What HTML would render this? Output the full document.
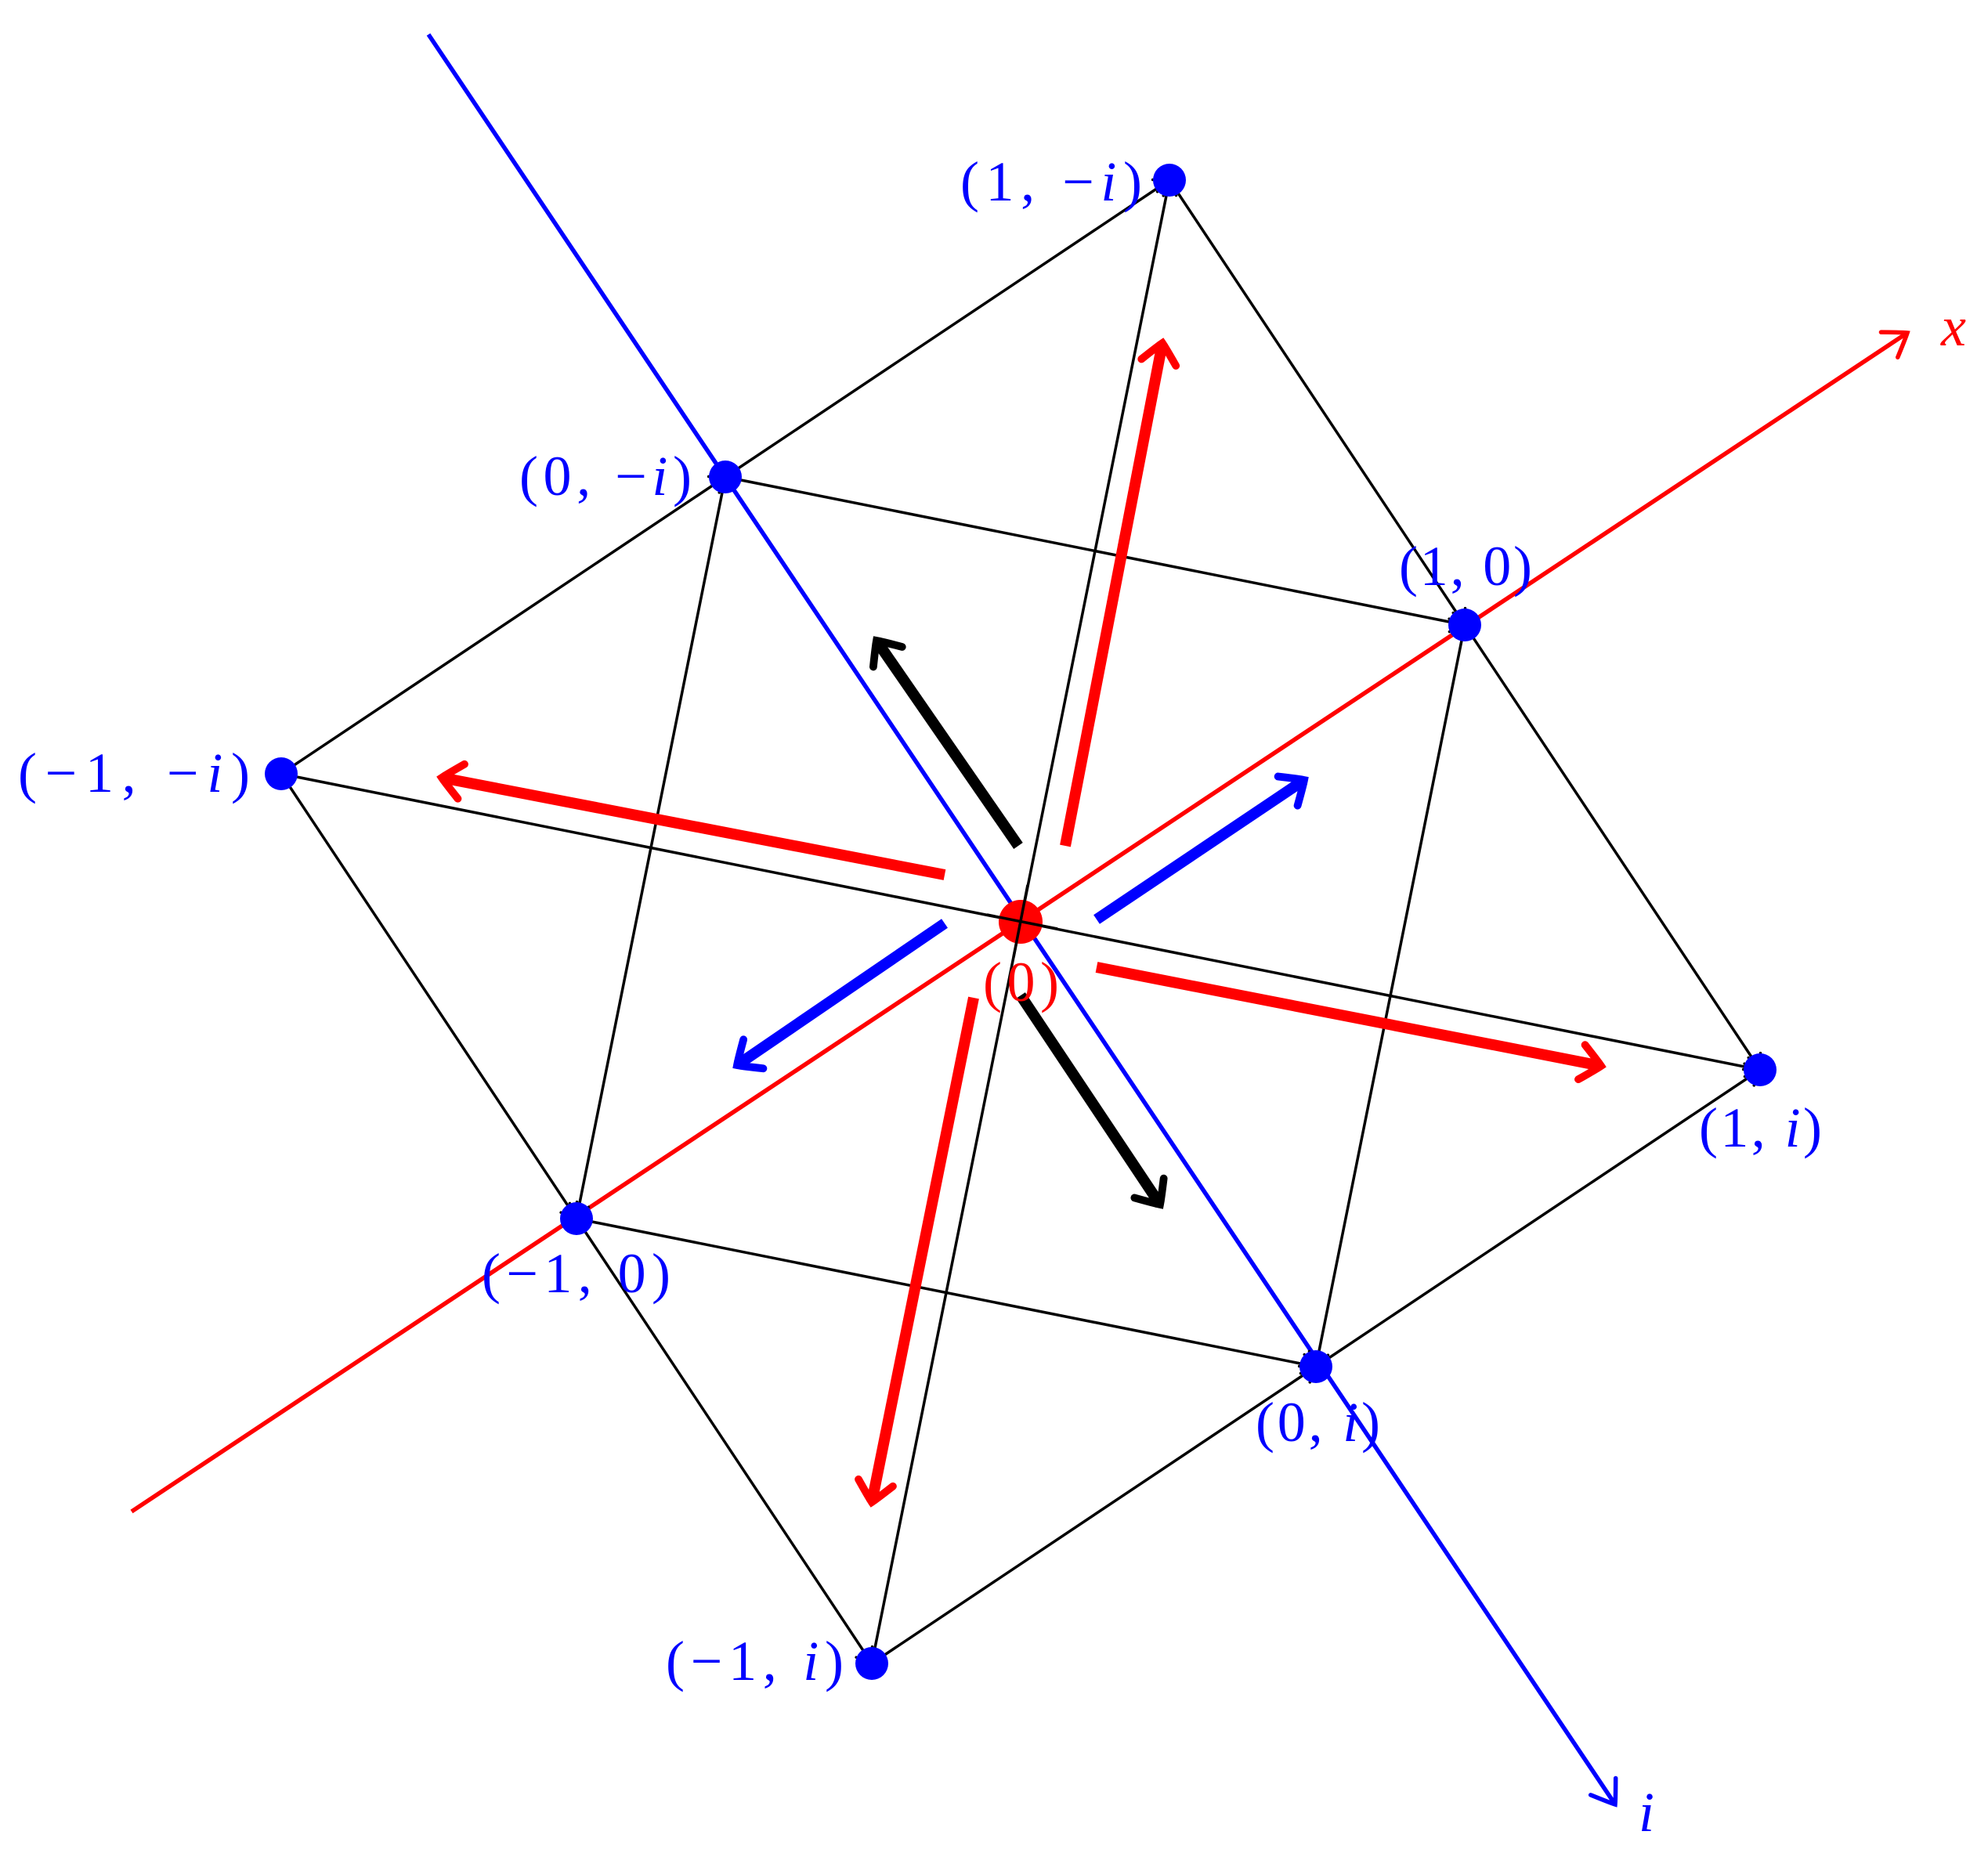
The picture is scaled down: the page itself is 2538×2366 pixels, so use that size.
<!DOCTYPE html>
<html><head><meta charset="utf-8"><style>
html,body{margin:0;padding:0;background:#fff;}
svg{display:block;}
text{font-family:"Liberation Serif",serif;font-size:72px;}
</style></head><body>
<svg width="2538" height="2366" viewBox="0 0 2538 2366" xmlns="http://www.w3.org/2000/svg">
<defs>
<marker id="hkr" viewBox="-4 -4 6 8" markerWidth="6" markerHeight="8" refX="0" refY="0" orient="auto" markerUnits="strokeWidth">
<path d="M-1.8,-1.6 Q-0.4,-0.4 0,0 Q-0.4,0.4 -1.8,1.6" fill="none" stroke="#f00" stroke-width="0.7" stroke-linecap="round"/>
</marker>
<marker id="hkb" viewBox="-4 -4 6 8" markerWidth="6" markerHeight="8" refX="0" refY="0" orient="auto" markerUnits="strokeWidth">
<path d="M-1.8,-1.6 Q-0.4,-0.4 0,0 Q-0.4,0.4 -1.8,1.6" fill="none" stroke="#00f" stroke-width="0.7" stroke-linecap="round"/>
</marker>
<marker id="hkk" viewBox="-4 -4 6 8" markerWidth="6" markerHeight="8" refX="0" refY="0" orient="auto" markerUnits="strokeWidth">
<path d="M-1.8,-1.6 Q-0.4,-0.4 0,0 Q-0.4,0.4 -1.8,1.6" fill="none" stroke="#000" stroke-width="0.7" stroke-linecap="round"/>
</marker>
<marker id="sk" viewBox="-8 -6 10 12" markerWidth="10" markerHeight="12" refX="0" refY="0" orient="auto" markerUnits="strokeWidth">
<path d="M-5,-3.5 Q-1,-0.8 0,0 Q-1,0.8 -5,3.5" fill="none" stroke="#000" stroke-width="1" stroke-linecap="round"/>
</marker>
<marker id="sr" viewBox="-8 -6 10 12" markerWidth="10" markerHeight="12" refX="0" refY="0" orient="auto" markerUnits="strokeWidth">
<path d="M-5,-3.5 Q-1,-0.8 0,0 Q-1,0.8 -5,3.5" fill="none" stroke="#f00" stroke-width="1" stroke-linecap="round"/>
</marker>
<marker id="sb" viewBox="-8 -6 10 12" markerWidth="10" markerHeight="12" refX="0" refY="0" orient="auto" markerUnits="strokeWidth">
<path d="M-5,-3.5 Q-1,-0.8 0,0 Q-1,0.8 -5,3.5" fill="none" stroke="#00f" stroke-width="1" stroke-linecap="round"/>
</marker>
</defs>

<!-- axes -->
<line x1="547" y1="44" x2="2062" y2="2304" stroke="#00f" stroke-width="5.5" marker-end="url(#sb)"/>
<line x1="168" y1="1930" x2="2435" y2="425" stroke="#f00" stroke-width="5.5" marker-end="url(#sr)"/>

<!-- lattice edges -->
<g stroke="#000" stroke-width="3.5" fill="none" marker-end="url(#sk)">
<line x1="359" y1="988" x2="926" y2="609"/>
<line x1="926" y1="609" x2="1493" y2="230"/>
<line x1="1113" y1="2124" x2="1680" y2="1745"/>
<line x1="1680" y1="1745" x2="2247" y2="1366"/>
<line x1="359" y1="988" x2="736" y2="1556"/>
<line x1="736" y1="1556" x2="1113" y2="2124"/>
<line x1="1493" y1="230" x2="1870" y2="798"/>
<line x1="1870" y1="798" x2="2247" y2="1366"/>
<line x1="926" y1="609" x2="1870" y2="798"/>
<line x1="736" y1="1556" x2="1680" y2="1745"/>
<line x1="926" y1="609" x2="736" y2="1556"/>
<line x1="1870" y1="798" x2="1680" y2="1745"/>
<line x1="359" y1="988" x2="2247" y2="1366"/>
<line x1="1113" y1="2124" x2="1493" y2="230"/>
</g>

<!-- thick arrows -->
<g stroke-width="14" fill="none">
<line x1="1360" y1="1080" x2="1484" y2="438" stroke="#f00" marker-end="url(#hkr)"/>
<line x1="1243" y1="1274" x2="1113" y2="1918" stroke="#f00" marker-end="url(#hkr)"/>
<line x1="1206" y1="1117" x2="564" y2="993" stroke="#f00" marker-end="url(#hkr)"/>
<line x1="1400" y1="1235" x2="2044" y2="1361" stroke="#f00" marker-end="url(#hkr)"/>
<line x1="1300" y1="1080" x2="1119" y2="818" stroke="#000" marker-end="url(#hkk)"/>
<line x1="1303" y1="1271" x2="1481" y2="1538" stroke="#000" marker-end="url(#hkk)"/>
<line x1="1400" y1="1174" x2="1665" y2="996" stroke="#00f" marker-end="url(#hkb)"/>
<line x1="1206" y1="1179" x2="941" y2="1360" stroke="#00f" marker-end="url(#hkb)"/>
</g>

<!-- dots -->
<g fill="#00f">
<circle cx="1870" cy="798" r="21"/>
<circle cx="1680" cy="1745" r="21"/>
<circle cx="736" cy="1556" r="21"/>
<circle cx="926" cy="609" r="21"/>
<circle cx="1493" cy="230" r="21"/>
<circle cx="2247" cy="1366" r="21"/>
<circle cx="359" cy="988" r="21"/>
<circle cx="1113" cy="2124" r="21"/>
</g>
<circle cx="1303" cy="1177" r="28" fill="#f00"/>
<line x1="1260" y1="1168" x2="1350" y2="1186" stroke="#000" stroke-width="3.5"/>
<line x1="1312" y1="1130" x2="1294" y2="1222" stroke="#000" stroke-width="3.5"/>

<!-- labels -->
<g fill="#00f">
<text x="1226" y="256" textLength="232" lengthAdjust="spacing">(1, −<tspan font-style="italic">i</tspan>)</text>
<text x="663" y="632" textLength="220" lengthAdjust="spacing">(0, −<tspan font-style="italic">i</tspan>)</text>
<text x="1786" y="747" textLength="170" lengthAdjust="spacing">(1, 0)</text>
<text x="23" y="1011" textLength="296" lengthAdjust="spacing">(−1, −<tspan font-style="italic">i</tspan>)</text>
<text x="2169" y="1464" textLength="157" lengthAdjust="spacing">(1, <tspan font-style="italic">i</tspan>)</text>
<text x="615" y="1650" textLength="241" lengthAdjust="spacing">(−1, 0)</text>
<text x="1603" y="1840" textLength="159" lengthAdjust="spacing">(0, <tspan font-style="italic">i</tspan>)</text>
<text x="850" y="2145" textLength="227" lengthAdjust="spacing">(−1, <tspan font-style="italic">i</tspan>)</text>
<text x="2092" y="2338" font-style="italic">i</text>
</g>
<text x="1255" y="1278" fill="#f00" textLength="97" lengthAdjust="spacing">(0)</text>
<text x="2478" y="441" fill="#f00" font-style="italic">x</text>
</svg>
</body></html>
